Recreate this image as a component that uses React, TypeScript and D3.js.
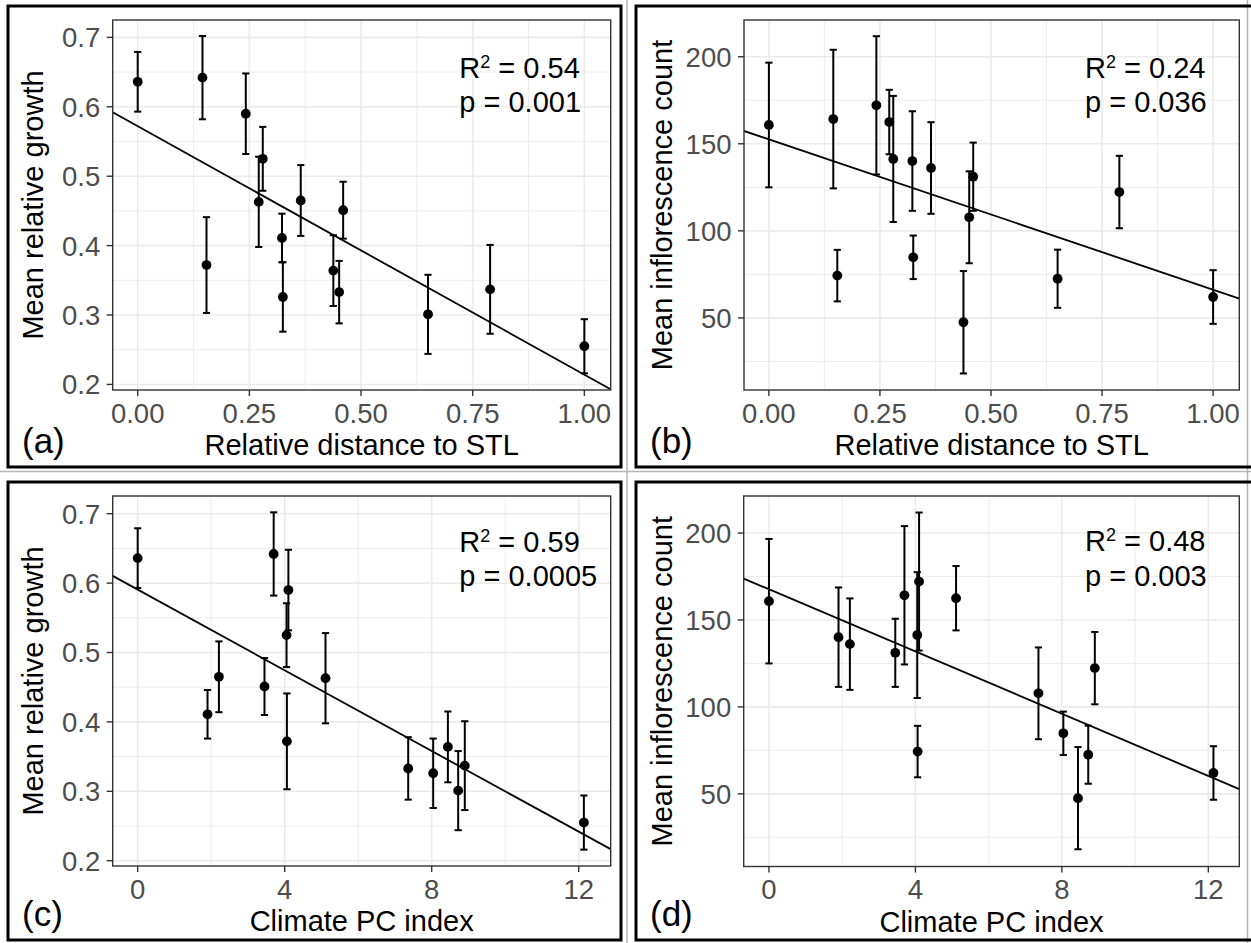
import * as d3 from 'd3';
import React, { useRef, useEffect } from 'react';

// one entry per site, same order in every array
const distance = [0, 0.145, 0.242, 0.280, 0.271, 0.365, 0.323, 0.325, 0.154, 0.438, 0.451, 0.460, 0.650, 0.789, 1.000];
const climatePC = [0, 3.70, 4.10, 4.05, 5.11, 2.21, 1.90, 8.04, 4.06, 8.44, 7.36, 3.45, 8.72, 8.90, 12.14];
const growthMean = [0.636, 0.642, 0.590, 0.525, 0.463, 0.465, 0.411, 0.326, 0.372, 0.364, 0.333, 0.451, 0.301, 0.337, 0.255];
const growthErr = [0.043, 0.060, 0.058, 0.046, 0.065, 0.051, 0.035, 0.050, 0.069, 0.051, 0.045, 0.041, 0.057, 0.064, 0.039];
const inflMean = [160.8, 164.2, 172.1, 141.3, 162.5, 136.1, 140.1, 84.8, 74.3, 47.5, 107.8, 131.1, 72.5, 122.3, 62.0];
const inflErr = [35.8, 39.8, 39.7, 36.2, 18.5, 26.3, 28.6, 12.5, 14.8, 29.4, 26.4, 19.6, 16.7, 20.8, 15.4];

const distTicks = [0, 0.25, 0.5, 0.75, 1];
const pcTicks = [0, 4, 8, 12];
const growthTicks = [0.2, 0.3, 0.4, 0.5, 0.6, 0.7];
const inflTicks = [50, 100, 150, 200];

const r2Labels = ["0.54", "0.24", "0.59", "0.48"];
const pLabels = ["0.001", "0.036", "0.0005", "0.003"];

const FONT = '"Liberation Sans", Arial, Helvetica, sans-serif';

const panels = [
    {
        tag: "(a)", xs: distance, ys: growthMean, es: growthErr,
        xDomain: [-0.056, 1.059], yDomain: [0.192, 0.725], xTicks: distTicks, yTicks: growthTicks,
        xFmt: d3.format(".2f"), yFmt: d3.format(".1f"),
        xTitle: "Relative distance to STL", yTitle: "Mean relative growth",
        frame: [8, 6, 621, 467], plot: [112.7, 20, 610.7, 390], yTitleX: 43, statX: 459.3, statY: 77.7, closeRight: true,
    },
    {
        tag: "(b)", xs: distance, ys: inflMean, es: inflErr,
        xDomain: [-0.056, 1.059], yDomain: [8.6, 221.1], xTicks: distTicks, yTicks: inflTicks,
        xFmt: d3.format(".2f"), yFmt: d3.format("d"),
        xTitle: "Relative distance to STL", yTitle: "Mean inflorescence count",
        frame: [636, 6, 1251, 467], plot: [744, 20, 1239.3, 390], yTitleX: 672, statX: 1085, statY: 77.7, closeRight: false,
    },
    {
        tag: "(c)", xs: climatePC, ys: growthMean, es: growthErr,
        xDomain: [-0.68, 12.87], yDomain: [0.1924, 0.7255], xTicks: pcTicks, yTicks: growthTicks,
        xFmt: d3.format("d"), yFmt: d3.format(".1f"),
        xTitle: "Climate PC index", yTitle: "Mean relative growth",
        frame: [8, 482, 621, 940], plot: [112.7, 496, 610.7, 866], yTitleX: 43, statX: 459.3, statY: 551.7, closeRight: true,
    },
    {
        tag: "(d)", xs: climatePC, ys: inflMean, es: inflErr,
        xDomain: [-0.69, 12.846], yDomain: [8.2, 221.3], xTicks: pcTicks, yTicks: inflTicks,
        xFmt: d3.format("d"), yFmt: d3.format("d"),
        xTitle: "Climate PC index", yTitle: "Mean inflorescence count",
        frame: [636, 482, 1251, 940], plot: [743.7, 496, 1239.3, 866.5], yTitleX: 672, statX: 1085, statY: 551.2, closeRight: false,
    },
];

// midpoints between major breaks, plus one step beyond each end if still inside the limits
const minorBreaks = (ticks, domain) => {
    const step = ticks[1] - ticks[0];
    const out = [];
    for (let v = ticks[0] - step / 2; v <= ticks[ticks.length - 1] + step / 2 + 1e-9; v += step) {
        if (v >= domain[0] && v <= domain[1]) out.push(v);
    }
    return out;
};

const linearFit = (xs, ys) => {
    const mx = d3.mean(xs), my = d3.mean(ys);
    let sxy = 0, sxx = 0;
    xs.forEach((v, i) => { sxy += (v - mx) * (ys[i] - my); sxx += (v - mx) * (v - mx); });
    const slope = sxy / sxx;
    return { slope, intercept: my - slope * mx };
};

function drawPanel(svg, p, idx) {
    const [l, t, r, b] = p.plot;
    const x = d3.scaleLinear().domain(p.xDomain).range([l, r]);
    const y = d3.scaleLinear().domain(p.yDomain).range([b, t]);
    const g = svg.append("g").attr("font-family", FONT);

    // outer frame
    const [fx0, fy0, fx1, fy1] = p.frame;
    const fp = d3.path();
    if (p.closeRight) {
        fp.rect(fx0, fy0, fx1 - fx0, fy1 - fy0);
    } else {
        fp.moveTo(fx1, fy0); fp.lineTo(fx0, fy0); fp.lineTo(fx0, fy1); fp.lineTo(fx1, fy1);
    }
    g.append("path").attr("d", fp.toString()).attr("fill", "none").attr("stroke", "#000").attr("stroke-width", 3);

    // grid
    const grid = g.append("g").attr("stroke", "#ebebeb");
    grid.selectAll("line.minx").data(minorBreaks(p.xTicks, p.xDomain)).join("line")
        .attr("x1", d => x(d)).attr("x2", d => x(d)).attr("y1", t).attr("y2", b).attr("stroke-width", 0.9);
    grid.selectAll("line.miny").data(minorBreaks(p.yTicks, p.yDomain)).join("line")
        .attr("y1", d => y(d)).attr("y2", d => y(d)).attr("x1", l).attr("x2", r).attr("stroke-width", 0.9);
    grid.selectAll("line.majx").data(p.xTicks).join("line")
        .attr("x1", d => x(d)).attr("x2", d => x(d)).attr("y1", t).attr("y2", b).attr("stroke-width", 1.6);
    grid.selectAll("line.majy").data(p.yTicks).join("line")
        .attr("y1", d => y(d)).attr("y2", d => y(d)).attr("x1", l).attr("x2", r).attr("stroke-width", 1.6);

    // regression line, clipped to the panel
    const clipId = `clip-${idx}`;
    svg.append("clipPath").attr("id", clipId).append("rect")
        .attr("x", l).attr("y", t).attr("width", r - l).attr("height", b - t);
    const fit = linearFit(p.xs, p.ys);
    const lineGen = d3.line().x(d => x(d)).y(d => y(fit.intercept + fit.slope * d));
    g.append("path").attr("clip-path", `url(#${clipId})`)
        .attr("d", lineGen(p.xDomain)).attr("fill", "none").attr("stroke", "#000").attr("stroke-width", 1.8);

    // error bars
    const bars = g.append("g").attr("stroke", "#000").attr("stroke-width", 2);
    p.xs.forEach((xv, i) => {
        const cx = x(xv), lo = y(p.ys[i] - p.es[i]), hi = y(p.ys[i] + p.es[i]);
        bars.append("line").attr("x1", cx).attr("x2", cx).attr("y1", lo).attr("y2", hi);
        bars.append("line").attr("x1", cx - 3.6).attr("x2", cx + 3.6).attr("y1", lo).attr("y2", lo);
        bars.append("line").attr("x1", cx - 3.6).attr("x2", cx + 3.6).attr("y1", hi).attr("y2", hi);
    });

    // points
    g.append("g").selectAll("circle").data(p.xs).join("circle")
        .attr("cx", d => x(d)).attr("cy", (d, i) => y(p.ys[i])).attr("r", 4.9).attr("fill", "#000");

    // panel border
    g.append("rect").attr("x", l).attr("y", t).attr("width", r - l).attr("height", b - t)
        .attr("fill", "none").attr("stroke", "#333333").attr("stroke-width", 1.4);

    // axes
    const ax = g.append("g");
    ax.selectAll("line.yt").data(p.yTicks).join("line")
        .attr("x1", l - 6).attr("x2", l).attr("y1", d => y(d)).attr("y2", d => y(d))
        .attr("stroke", "#333333").attr("stroke-width", 1.4);
    ax.selectAll("text.yl").data(p.yTicks).join("text")
        .attr("x", l - 12.5).attr("y", d => y(d)).attr("dy", "0.36em")
        .attr("text-anchor", "end").attr("font-size", 27.5).attr("fill", "#4d4d4d")
        .text(d => p.yFmt(d));
    ax.selectAll("line.xt").data(p.xTicks).join("line")
        .attr("x1", d => x(d)).attr("x2", d => x(d)).attr("y1", b).attr("y2", b + 6)
        .attr("stroke", "#333333").attr("stroke-width", 1.4);
    ax.selectAll("text.xl").data(p.xTicks).join("text")
        .attr("x", d => x(d)).attr("y", b + 32.5)
        .attr("text-anchor", "middle").attr("font-size", 27.5).attr("fill", "#4d4d4d")
        .text(d => p.xFmt(d));

    // titles
    g.append("text").attr("x", (l + r) / 2).attr("y", b + 65)
        .attr("text-anchor", "middle").attr("font-size", 29).attr("fill", "#000").text(p.xTitle);
    g.append("text").attr("transform", `translate(${p.yTitleX},${(t + b) / 2}) rotate(-90)`)
        .attr("text-anchor", "middle").attr("font-size", 29).attr("fill", "#000").text(p.yTitle);

    // panel tag
    g.append("text").attr("x", fx0 + 14).attr("y", fy1 - 14)
        .attr("font-size", 35).attr("fill", "#000").text(p.tag);

    // stats
    const s = g.append("text").attr("x", p.statX).attr("y", p.statY).attr("font-size", 29).attr("fill", "#000");
    s.append("tspan").text("R");
    s.append("tspan").attr("font-size", 18).attr("dy", -10).text("2");
    s.append("tspan").attr("dy", 10).text(` = ${r2Labels[idx]}`);
    g.append("text").attr("x", p.statX).attr("y", p.statY + 34.5).attr("font-size", 29).attr("fill", "#000")
        .text(`p = ${pLabels[idx]}`);
}

function App() {
    const ref = useRef();

    useEffect(() => {
        const svg = d3.select(ref.current);
        svg.selectAll("*").remove();
        svg.append("rect").attr("width", 1251).attr("height", 943).attr("fill", "#fff");

        // faint separators between the panel frames
        const sep = svg.append("g").attr("stroke", "#b5b5b5").attr("stroke-width", 1.5);
        sep.append("line").attr("x1", 627).attr("x2", 627).attr("y1", 0).attr("y2", 943);
        sep.append("line").attr("x1", 1247.5).attr("x2", 1247.5).attr("y1", 0).attr("y2", 943);
        sep.append("line").attr("x1", 0).attr("x2", 1251).attr("y1", 471.5).attr("y2", 471.5);

        panels.forEach((p, i) => drawPanel(svg, p, i));
    }, []);

    return (
        <svg ref={ref} width={1251} height={943}
            style={{ position: "absolute", left: 0, top: 0, display: "block" }}>
        </svg>
    );
}

export default App;
